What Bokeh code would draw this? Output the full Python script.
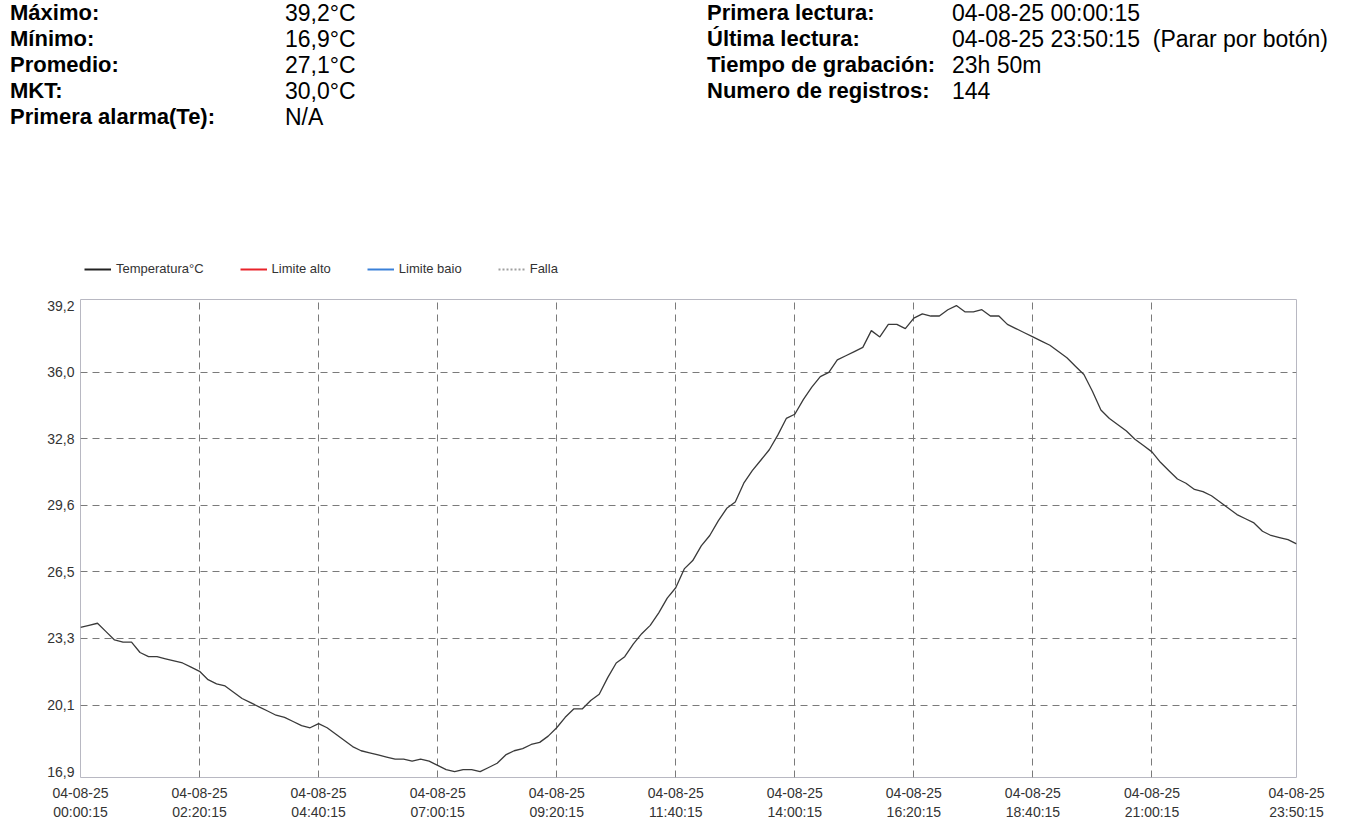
from bokeh.plotting import figure
from bokeh.layouts import column
from bokeh.models import FixedTicker, Legend, LegendItem, Range1d, Div
from bokeh.embed import file_html
from bokeh.resources import INLINE

# ---- data -------------------------------------------------------------
# 144 records, one every 10 minutes from 04-08-25 00:00:15 (minutes after first reading)
minutes = list(range(0, 1440, 10))
temps = [
    23.8, 23.9, 24.0, 23.6, 23.2, 23.1, 23.1, 22.6, 22.4, 22.4,
    22.3, 22.2, 22.1, 21.9, 21.7, 21.3, 21.1, 21.0, 20.7, 20.4,
    20.2, 20.0, 19.8, 19.6, 19.5, 19.3, 19.1, 19.0, 19.2, 19.0,
    18.7, 18.4, 18.1, 17.9, 17.8, 17.7, 17.6, 17.5, 17.5, 17.4,
    17.5, 17.4, 17.2, 17.0, 16.9, 17.0, 17.0, 16.9, 17.1, 17.3,
    17.7, 17.9, 18.0, 18.2, 18.3, 18.6, 19.0, 19.5, 19.9, 19.9,
    20.3, 20.6, 21.4, 22.1, 22.4, 23.0, 23.5, 23.9, 24.5, 25.2,
    25.7, 26.6, 27.0, 27.7, 28.2, 28.9, 29.5, 29.8, 30.7, 31.3,
    31.8, 32.3, 33.0, 33.8, 34.0, 34.7, 35.3, 35.8, 36.0, 36.6,
    36.8, 37.0, 37.2, 38.0, 37.7, 38.3, 38.3, 38.1, 38.6, 38.8,
    38.7, 38.7, 39.0, 39.2, 38.9, 38.9, 39.0, 38.7, 38.7, 38.3,
    38.1, 37.9, 37.7, 37.5, 37.3, 37.0, 36.7, 36.3, 35.9, 35.1,
    34.2, 33.8, 33.5, 33.2, 32.8, 32.5, 32.2, 31.7, 31.3, 30.9,
    30.7, 30.4, 30.3, 30.1, 29.8, 29.5, 29.2, 29.0, 28.8, 28.4,
    28.2, 28.1, 28.0, 27.8,
]

x_tick_minutes = [0, 140, 280, 420, 560, 700, 840, 980, 1120, 1260, 1430]
x_tick_times = ["00:00:15", "02:20:15", "04:40:15", "07:00:15", "09:20:15", "11:40:15",
                "14:00:15", "16:20:15", "18:40:15", "21:00:15", "23:50:15"]
x_tick_date = "04-08-25"

y_min, y_max = 16.9, 39.2
y_tick_labels = ["16,9", "20,1", "23,3", "26,5", "29,6", "32,8", "36,0", "39,2"]

legend_labels = ["Temperatura°C", "Limite alto", "Limite baio", "Falla"]
legend_colors = ["#222222", "#e8232a", "#3a80d8", "#a0a0a0"]
legend_dashes = ["solid", "solid", "solid", "2 2"]

left_labels = ["Máximo:", "Mínimo:", "Promedio:", "MKT:", "Primera alarma(Te):"]
left_values = ["39,2°C", "16,9°C", "27,1°C", "30,0°C", "N/A"]
right_labels = ["Primera lectura:", "Última lectura:", "Tiempo de grabación:", "Numero de registros:"]
right_values = ["04-08-25 00:00:15", "04-08-25 23:50:15&nbsp;&nbsp;(Parar por botón)", "23h 50m", "144"]

# ---- layout constants -------------------------------------------------
FONT = "Liberation Sans"
W = 1342
HEAD_H = 255
LEG_H = 30
MAIN_H = 539
BL, BR = 80, 46

# ---- header (summary table) as HTML ------------------------------------
row_top = [1, 27, 53, 79, 105]

def spans(texts, left, bold):
    out = []
    for t, top in zip(texts, row_top):
        style = "font-weight:bold;font-size:22px" if bold else "font-weight:normal;font-size:23px"
        out.append(f'<span style="position:absolute;left:{left}px;top:{top}px;'
                   f'{style};white-space:nowrap">{t}</span>')
    return "".join(out)

html = (f'<div style="position:relative;width:{W}px;height:{HEAD_H}px;'
        f'font-family:\'{FONT}\',Arial,sans-serif;line-height:24px;color:#000">'
        + spans(left_labels, 10, True) + spans(left_values, 285, False)
        + spans(right_labels, 707, True) + spans(right_values, 952, False)
        + '</div>')
hdr = Div(text=html, width=W, height=HEAD_H, margin=0)

# ---- legend strip -------------------------------------------------------
lg = figure(width=W, height=LEG_H, output_backend="svg", toolbar_location=None,
            x_range=Range1d(0, 1), y_range=Range1d(0, 1),
            x_axis_type=None, y_axis_type=None, margin=0,
            min_border_left=BL, min_border_right=BR, min_border_top=0, min_border_bottom=0)
lg.title.visible = False
lg.outline_line_color = None
lg.grid.visible = False
nan = float("nan")
leg_renderers = [lg.line(x=[nan], y=[nan], line_color=c, line_width=2, line_dash=d)
                 for c, d in zip(legend_colors, legend_dashes)]
legend = Legend(items=[LegendItem(label=l, renderers=[r]) for l, r in zip(legend_labels, leg_renderers)],
                orientation="horizontal", location=(4, 9),
                border_line_color=None, background_fill_alpha=0,
                padding=0, margin=0, spacing=36, glyph_width=27, glyph_height=14,
                label_height=14, label_standoff=5,
                label_text_font=FONT, label_text_font_size="13px",
                label_text_color="#333333")
lg.add_layout(legend)

# ---- main chart --------------------------------------------------------
p = figure(width=W, height=MAIN_H, output_backend="svg", toolbar_location=None,
           x_range=Range1d(0, 1430), y_range=Range1d(16.62, 39.49),
           min_border_left=BL, min_border_right=BR, min_border_top=14, min_border_bottom=47,
           margin=0)
p.title.visible = False
p.outline_line_color = "#b8b8c2"
p.outline_line_width = 1

n_int = len(y_tick_labels) - 1
y_ticks = [y_min + k * (y_max - y_min) / n_int for k in range(n_int + 1)]

p.xaxis.ticker = FixedTicker(ticks=x_tick_minutes)
p.xaxis.major_label_overrides = {m: f"{x_tick_date}\n{t}" for m, t in zip(x_tick_minutes, x_tick_times)}
p.yaxis.ticker = FixedTicker(ticks=y_ticks)
p.yaxis.major_label_overrides = {v: s for v, s in zip(y_ticks, y_tick_labels)}
for ax in (p.xaxis[0], p.yaxis[0]):
    ax.axis_line_color = None
    ax.major_tick_line_color = None
    ax.minor_tick_line_color = None
    ax.major_tick_out = 0
    ax.major_tick_in = 0
    ax.major_label_text_font = FONT
    ax.major_label_text_font_size = "14px"
    ax.major_label_text_color = "#333333"
p.xaxis.major_label_standoff = 7
p.yaxis.major_label_standoff = 6

p.xgrid.ticker = FixedTicker(ticks=x_tick_minutes[1:-1])
p.ygrid.ticker = FixedTicker(ticks=y_ticks[1:-1])
for g in (p.xgrid[0], p.ygrid[0]):
    g.grid_line_color = "#7a7a7a"
    g.grid_line_dash = "7 5"
    g.grid_line_width = 1

p.line(minutes, temps, line_color="#3a3a3a", line_width=1.3)

open("out.html", "w").write(file_html(column(hdr, lg, p, spacing=0), INLINE))
